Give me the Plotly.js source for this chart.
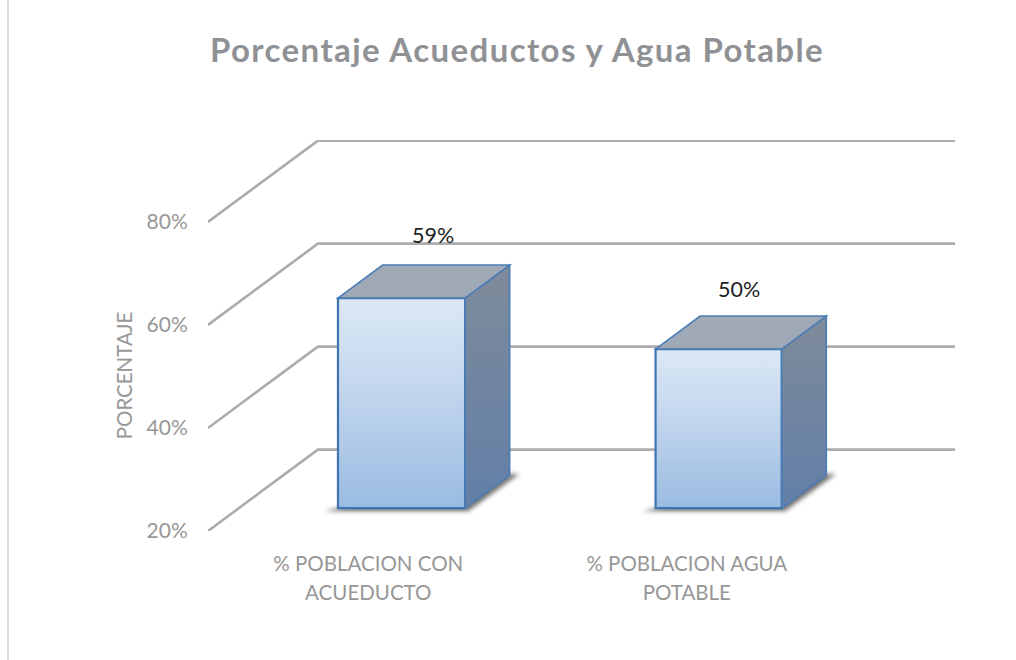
<!DOCTYPE html>
<html>
<head>
<meta charset="utf-8">
<script src="https://cdn.plot.ly/plotly-3.0.1.min.js"></script>
<style>html,body{margin:0;padding:0;background:#fff}</style>
</head>
<body>
<div id="chart" style="width:1016px;height:660px"></div>
<script>
var categories = ['% POBLACION CON<br>ACUEDUCTO', '% POBLACION AGUA<br>POTABLE'];
var values = [59, 50];
var valueLabels = ['59%', '50%'];
var tickValues = [20, 40, 60, 80];
var tickLabels = ['20%', '40%', '60%', '80%'];

var W = 1016, H = 660;
var mL = 208, mR = 61, mT = 140, mB = 129;
var xRange = [-0.5, 1.845], yRange = [20, 95.92], y2Range = [17.9, 86.88];
var barBase = 21.94, barOffsets = [-0.092, -0.095], barWidths = [0.399, 0.396];
var depthX = 0.14, depthY2 = 5.82;
var wallX = 0.345, wallY = 15.8;
var labelX = [0.207, 0.166], labelShift = [63, 60];

var shapes = [];
// wall + side-wall gridlines
tickValues.forEach(function (t) {
  shapes.push({type: 'path', xref: 'x', yref: 'y', layer: 'below',
    path: 'M' + xRange[0] + ',' + t + ' L' + (xRange[0] + wallX) + ',' + (t + wallY) + ' L' + xRange[1] + ',' + (t + wallY),
    line: {color: '#acacac', width: 2.6}});
});
var idx = {shadow: [], side: []};
// soft floor shadows
values.forEach(function (v, i) {
  var x0 = i + barOffsets[i], x1 = x0 + barWidths[i];
  idx.shadow.push(shapes.length);
  shapes.push({type: 'path', xref: 'x', yref: 'y2', layer: 'below',
    path: 'M' + (x0 - 0.04) + ',' + (barBase - 0.55) + ' L' + (x1 + 0.01) + ',' + (barBase - 0.55) +
      ' L' + (x1 + depthX + 0.03) + ',' + (barBase + depthY2 + 0.2) + ' L' + x1 + ',' + (barBase + depthY2) + ' L' + x0 + ',' + barBase + ' Z',
    fillcolor: 'rgba(40,40,40,0.65)', line: {width: 0}});
});
// side and top faces of the columns
values.forEach(function (v, i) {
  var x0 = i + barOffsets[i], x1 = x0 + barWidths[i];
  idx.side.push(shapes.length);
  shapes.push({type: 'path', xref: 'x', yref: 'y2', layer: 'above',
    path: 'M' + x1 + ',' + barBase + ' L' + (x1 + depthX) + ',' + (barBase + depthY2) + ' L' + (x1 + depthX) + ',' + (v + depthY2) + ' L' + x1 + ',' + v + ' Z',
    fillcolor: '#71869f', line: {color: '#4a7cb6', width: 1.6}});
  shapes.push({type: 'path', xref: 'x', yref: 'y2', layer: 'above',
    path: 'M' + x0 + ',' + v + ' L' + (x0 + depthX) + ',' + (v + depthY2) + ' L' + (x1 + depthX) + ',' + (v + depthY2) + ' L' + x1 + ',' + v + ' Z',
    fillcolor: 'rgba(156,166,179,0.96)', line: {color: '#4a7cb6', width: 1.6}});
});
// faint page rule at the left
shapes.push({type: 'line', xref: 'paper', yref: 'paper',
  x0: (8 - mL) / (W - mL - mR), x1: (8 - mL) / (W - mL - mR), y0: -mB / (H - mT - mB), y1: 1 + mT / (H - mT - mB),
  line: {color: '#dddddd', width: 2}});

var annotations = values.map(function (v, i) {
  return {xref: 'x', yref: 'y2', x: i + labelX[i], y: v, yshift: labelShift[i], text: valueLabels[i],
    showarrow: false, font: {family: 'Lato, sans-serif', size: 21.5, color: '#222222'}};
});

var data = [{
  type: 'bar', x: categories, y: values.map(function (v) { return v - barBase; }), base: barBase,
  offset: barOffsets, width: barWidths, yaxis: 'y2', cliponaxis: false,
  customdata: values, hovertemplate: '%{x}: %{customdata}%<extra></extra>',
  marker: {color: '#bdd3ec', line: {color: '#3f74b0', width: 2.2}}
}];

var layout = {
  width: W, height: H, showlegend: false,
  paper_bgcolor: '#ffffff', plot_bgcolor: 'rgba(0,0,0,0)',
  margin: {l: mL, r: mR, t: mT, b: mB, pad: 0},
  title: {text: 'Porcentaje Acueductos y Agua Potable', x: 517 / W, xanchor: 'center', y: 1 - 50 / H, yanchor: 'middle',
    font: {family: 'Lato, sans-serif', size: 33, weight: 700, color: '#8f9194'}},
  xaxis: {type: 'category', categoryorder: 'array', categoryarray: categories, range: xRange,
    showgrid: false, zeroline: false, showline: false, ticks: 'outside', ticklen: 14, tickcolor: 'rgba(0,0,0,0)',
    tickangle: 0, ticklabelshift: 1, tickfont: {family: 'Lato, sans-serif', size: 20.5, color: '#979797'}},
  yaxis: {range: yRange, tickvals: tickValues, ticktext: tickLabels, showgrid: false, zeroline: false, showline: false,
    ticks: 'outside', ticklen: 15, tickcolor: 'rgba(0,0,0,0)', ticklabelshift: 1.5,
    tickfont: {family: 'Lato, sans-serif', size: 21, color: '#979797'},
    title: {text: 'PORCENTAJE', standoff: 20, font: {family: 'Lato, sans-serif', size: 20.5, color: '#979797'}}},
  yaxis2: {range: y2Range, overlaying: 'y', side: 'left', visible: false},
  shapes: shapes,
  annotations: annotations
};

Plotly.newPlot('chart', data, layout, {displayModeBar: false, responsive: false}).then(function (gd) {
  var svg = gd.querySelector('.main-svg');
  var ns = 'http://www.w3.org/2000/svg';
  var defs = svg.querySelector('defs') || svg.insertBefore(document.createElementNS(ns, 'defs'), svg.firstChild);
  function grad(id, stops) {
    var g = document.createElementNS(ns, 'linearGradient');
    g.setAttribute('id', id); g.setAttribute('x1', '0'); g.setAttribute('y1', '0'); g.setAttribute('x2', '0'); g.setAttribute('y2', '1');
    stops.forEach(function (s) {
      var st = document.createElementNS(ns, 'stop');
      st.setAttribute('offset', s[0]); st.setAttribute('stop-color', s[1]);
      g.appendChild(st);
    });
    defs.appendChild(g);
  }
  grad('frontFace', [[0, '#dce9f6'], [0.5, '#bed3ec'], [1, '#9abce2']]);
  grad('sideFace', [[0, '#7f8b9a'], [1, '#627fa8']]);
  var f = document.createElementNS(ns, 'filter');
  f.setAttribute('id', 'softShadow');
  f.setAttribute('x', '-20%'); f.setAttribute('y', '-40%'); f.setAttribute('width', '140%'); f.setAttribute('height', '180%');
  var b = document.createElementNS(ns, 'feGaussianBlur');
  b.setAttribute('stdDeviation', '2.2');
  f.appendChild(b); defs.appendChild(f);
  gd.querySelectorAll('.bars .point path').forEach(function (p) { p.style.fill = 'url(#frontFace)'; });
  idx.side.forEach(function (n) {
    var p = gd.querySelector('.shapelayer path[data-index="' + n + '"]');
    if (p) p.style.fill = 'url(#sideFace)';
  });
  idx.shadow.forEach(function (n) {
    var p = gd.querySelector('.shapelayer path[data-index="' + n + '"]');
    if (p) p.setAttribute('filter', 'url(#softShadow)');
  });
  // text fine-tuning that the layout options do not reach
  var t = gd.querySelector('.gtitle');
  if (t) t.style.letterSpacing = '1.4px';
  var yt = gd.querySelector('.g-ytitle');
  if (yt) yt.setAttribute('transform', 'translate(12,40)');
  gd.querySelectorAll('.xtick text tspan.line').forEach(function (s) {
    if (s.getAttribute('dy') && parseFloat(s.getAttribute('dy')) > 0) s.setAttribute('dy', '29px');
  });
});
</script>
</body>
</html>
